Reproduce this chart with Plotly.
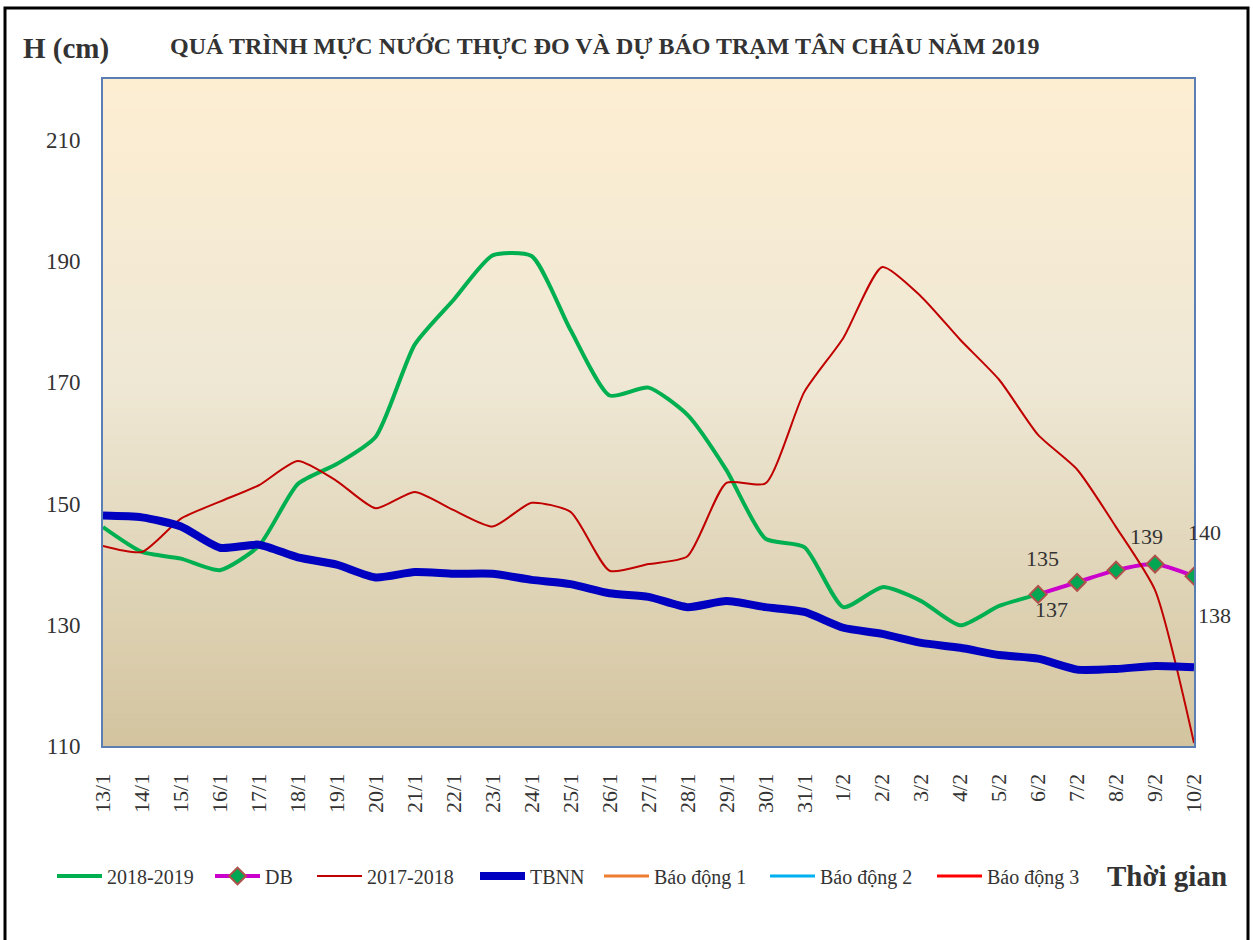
import plotly.graph_objects as go

categories = ["13/1", "14/1", "15/1", "16/1", "17/1", "18/1", "19/1", "20/1", "21/1", "22/1",
              "23/1", "24/1", "25/1", "26/1", "27/1", "28/1", "29/1", "30/1", "31/1", "1/2",
              "2/2", "3/2", "4/2", "5/2", "6/2", "7/2", "8/2", "9/2", "10/2"]

h_2018_2019 = [146.1, 142.0, 140.9, 139.0, 143.0, 153.2, 156.5, 161.0, 176.2, 183.6,
               190.9, 190.8, 178.6, 167.8, 169.1, 164.6, 155.5, 144.2, 142.8, 132.9,
               136.2, 133.9, 129.9, 133.1, 135.0, None, None, None, None]

db_dates = ["6/2", "7/2", "8/2", "9/2", "10/2"]
db_values = [135, 137, 139, 140, 138]

h_2017_2018 = [143.0, 142.0, 147.5, 150.3, 153.0, 157.0, 153.7, 149.2, 151.9, 148.9,
               146.2, 150.1, 148.6, 138.9, 140.0, 141.3, 153.4, 153.3, 168.4, 177.3,
               189.0, 184.1, 177.0, 170.4, 161.3, 155.6, 146.1, 135.7, 110.5]

tbnn = [148.0, 147.7, 146.2, 142.7, 143.2, 141.1, 139.9, 137.8, 138.7, 138.4,
        138.4, 137.4, 136.7, 135.2, 134.6, 132.9, 133.9, 132.9, 132.1, 129.5,
        128.5, 127.0, 126.2, 125.0, 124.4, 122.6, 122.7, 123.2, 123.0]

# alarm levels (cm) - above the visible range of the chart
bao_dong_1 = 350
bao_dong_2 = 400
bao_dong_3 = 450

y_ticks = [110, 130, 150, 170, 190, 210]

TEXT = "#333333"
SERIF = "Liberation Serif, Times New Roman, serif"

# plot-area box in pixels
L, R, T, B = 103, 1194, 79, 746
W, H = R - L, B - T
def px(x):
    return (x - L) / W
def py(y):
    return (B - y) / H

# legend entry left positions (px)
legend_x = [52, 210, 312, 475, 599, 765, 932]

fig = go.Figure()

fig.add_trace(go.Scatter(x=categories, y=h_2018_2019, name="2018-2019", mode="lines", legend="legend",
                         line=dict(color="#00B050", width=4, shape="spline", smoothing=0.6)))
fig.add_trace(go.Scatter(x=db_dates, y=db_values, name="DB", mode="lines+markers", legend="legend2",
                         line=dict(color="#CC00CC", width=4, shape="spline", smoothing=0.6),
                         marker=dict(symbol="diamond", size=13, color="#00A651",
                                     line=dict(color="#B0504A", width=2))))
fig.add_trace(go.Scatter(x=categories, y=h_2017_2018, name="2017-2018", mode="lines", legend="legend3",
                         line=dict(color="#C00000", width=2, shape="spline", smoothing=0.6)))
fig.add_trace(go.Scatter(x=categories, y=tbnn, name="TBNN", mode="lines", legend="legend4",
                         line=dict(color="#0000C0", width=8, shape="spline", smoothing=0.6)))
fig.add_trace(go.Scatter(x=categories, y=[bao_dong_1] * len(categories), name="Báo động 1",
                         mode="lines", legend="legend5", line=dict(color="#ED7D31", width=3)))
fig.add_trace(go.Scatter(x=categories, y=[bao_dong_2] * len(categories), name="Báo động 2",
                         mode="lines", legend="legend6", line=dict(color="#00B0F0", width=3)))
fig.add_trace(go.Scatter(x=categories, y=[bao_dong_3] * len(categories), name="Báo động 3",
                         mode="lines", legend="legend7", line=dict(color="#FF0000", width=3)))

# gradient plot-area background
def hex2rgb(h):
    h = h.lstrip("#")
    return [int(h[i:i + 2], 16) for i in (0, 2, 4)]

stops = [(0.0, hex2rgb("#D3C49F")), (0.55, hex2rgb("#EFE8D5")), (1.0, hex2rgb("#FDEED2"))]

def color_at(t):
    for (t0, c0), (t1, c1) in zip(stops[:-1], stops[1:]):
        if t0 <= t <= t1:
            f = (t - t0) / (t1 - t0)
            return "rgb(%d,%d,%d)" % tuple(round(a + (b - a) * f) for a, b in zip(c0, c1))
    return "rgb(%d,%d,%d)" % tuple(stops[-1][1])

shapes = []
n_bands = 120
for i in range(n_bands):
    y0 = i / n_bands
    y1 = (i + 1) / n_bands + 0.002
    shapes.append(dict(type="rect", xref="paper", yref="paper", x0=0, x1=1, y0=y0, y1=min(y1, 1),
                       fillcolor=color_at((i + 0.5) / n_bands), line=dict(width=0), layer="below"))

# outer black frame
shapes.append(dict(type="rect", xref="paper", yref="paper", x0=px(5), x1=px(1248),
                   y0=py(960), y1=py(8), line=dict(color="black", width=3), layer="above"))

annotations = []
# data labels for the forecast
offsets = [(4, 36), (-26, -27), (30, 34), (49, 32), (20, -39)]
for d, v, (dx, dy) in zip(db_dates, db_values, offsets):
    annotations.append(dict(x=d, y=v, xref="x", yref="y", text=str(v), showarrow=False,
                            xshift=dx, yshift=dy, font=dict(family=SERIF, size=22, color=TEXT)))

annotations.append(dict(text="<b>QUÁ TRÌNH MỰC NƯỚC THỰC ĐO VÀ DỰ BÁO TRẠM TÂN CHÂU NĂM 2019</b>",
                        xref="paper", yref="paper", x=px(605), y=py(46), showarrow=False,
                        xanchor="center", yanchor="middle",
                        font=dict(family=SERIF, size=24, color=TEXT)))
annotations.append(dict(text="<b>H (cm)</b>", xref="paper", yref="paper", x=px(21), y=py(48),
                        showarrow=False, xanchor="left", yanchor="middle",
                        font=dict(family=SERIF, size=29, color=TEXT)))
annotations.append(dict(text="<b>Thời gian</b>", xref="paper", yref="paper", x=px(1229), y=py(876),
                        showarrow=False, xanchor="right", yanchor="middle",
                        font=dict(family=SERIF, size=29, color=TEXT)))

legend_style = dict(orientation="h", yanchor="middle", xanchor="left", y=py(876),
                    font=dict(family=SERIF, size=20, color=TEXT), bgcolor="rgba(0,0,0,0)",
                    itemwidth=45)
legends = {}
for i, lx in enumerate(legend_x):
    key = "legend" if i == 0 else "legend%d" % (i + 1)
    legends[key] = dict(legend_style, x=px(lx))

fig.update_layout(
    width=1253, height=940,
    margin=dict(l=L, r=1253 - R, t=T, b=940 - B),
    paper_bgcolor="white", plot_bgcolor="#EFE8D5",
    shapes=shapes, annotations=annotations,
    font=dict(family=SERIF, color=TEXT),
    showlegend=True,
    xaxis=dict(type="category", range=[0, len(categories) - 1], tickangle=-90,
               tickfont=dict(family=SERIF, size=22, color=TEXT), showgrid=False,
               showline=True, linecolor="#5B7FB5", linewidth=2, mirror=True,
               ticks="", ticklabelstandoff=17, zeroline=False),
    yaxis=dict(range=[110, 220], tickvals=y_ticks, ticktext=[str(v) for v in y_ticks],
               tickfont=dict(family=SERIF, size=23, color=TEXT), showgrid=False,
               showline=True, linecolor="#5B7FB5", linewidth=2, mirror=True,
               ticks="", ticklabelstandoff=16, zeroline=False),
    **legends,
)

fig.write_html("out.html", config={"displayModeBar": False},
               post_script="document.body.style.margin='0px';")
